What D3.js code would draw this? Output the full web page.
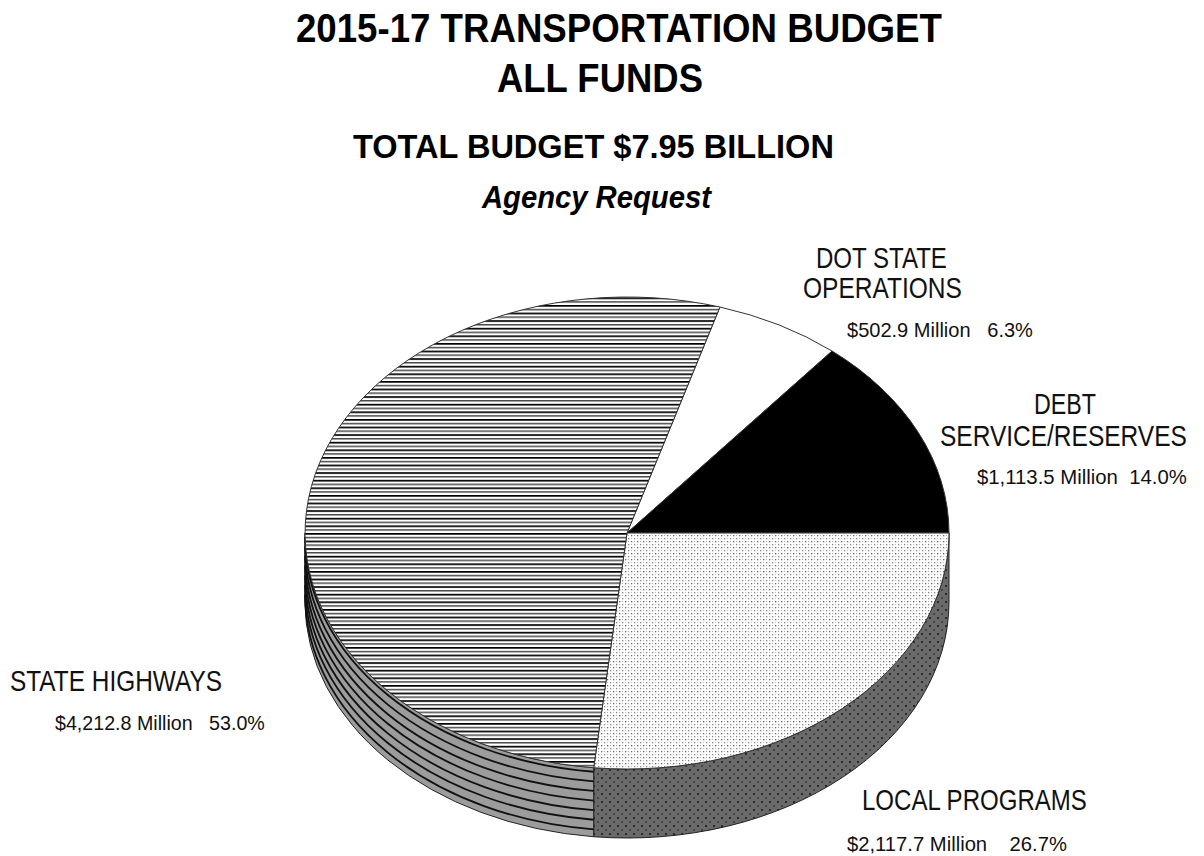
<!DOCTYPE html>
<html>
<head>
<meta charset="utf-8">
<script src="https://cdn.jsdelivr.net/npm/d3@7"></script>
<style>
  html, body { margin: 0; padding: 0; background: #fff; }
  svg { display: block; }
  text { white-space: pre; }
</style>
</head>
<body>
<svg id="chart" width="1204" height="856"></svg>
<script>
// ---- data ----
const categories = ["DOT STATE OPERATIONS", "DEBT SERVICE/RESERVES", "LOCAL PROGRAMS", "STATE HIGHWAYS"];
const amountsMillions = [502.9, 1113.5, 2117.7, 4212.8];
const percentLabels = ["6.3%", "14.0%", "26.7%", "53.0%"];
const labelLines = [["DOT STATE", "OPERATIONS"], ["DEBT", "SERVICE/RESERVES"], ["LOCAL PROGRAMS"], ["STATE HIGHWAYS"]];
const titleLines = ["2015-17 TRANSPORTATION BUDGET", "ALL FUNDS"];
const subtitle = "TOTAL BUDGET $7.95 BILLION";
const subtitle2 = "Agency Request";

// ---- layout ----
const svg = d3.select("#chart");
const cx = 627, cy = 533, rx = 322, ry = 236, depth = 69;
const narrow = "'Liberation Sans Narrow', 'Liberation Sans', Arial, sans-serif";

// ---- fill patterns ----
const defs = svg.append("defs");

// horizontal rules for the highways top face
const hLines = defs.append("pattern").attr("id", "hlines")
  .attr("patternUnits", "userSpaceOnUse").attr("width", 40).attr("height", 7.6)
  .attr("y", cy);
hLines.append("rect").attr("width", 40).attr("height", 7.6).attr("fill", "#fff");
hLines.append("rect").attr("y", 0).attr("width", 40).attr("height", 1.7).attr("fill", "#000");
hLines.append("rect").attr("y", 3.8).attr("width", 40).attr("height", 1.5).attr("fill", "#4a4a4a");

// light stipple for the local programs top face
const stipple = defs.append("pattern").attr("id", "stipple")
  .attr("patternUnits", "userSpaceOnUse").attr("width", 6).attr("height", 6);
stipple.append("rect").attr("width", 6).attr("height", 6).attr("fill", "#fff");
stipple.append("rect").attr("x", 1).attr("y", 1).attr("width", 1.3).attr("height", 1.3).attr("fill", "#666");
stipple.append("rect").attr("x", 4).attr("y", 4).attr("width", 1.3).attr("height", 1.3).attr("fill", "#888");
stipple.append("rect").attr("x", 4).attr("y", 1).attr("width", 1).attr("height", 1).attr("fill", "#aaa");
stipple.append("rect").attr("x", 1).attr("y", 4).attr("width", 1).attr("height", 1).attr("fill", "#bbb");

// dark dotted texture for the local programs side wall
const darkDots = defs.append("pattern").attr("id", "darkdots")
  .attr("patternUnits", "userSpaceOnUse").attr("width", 8).attr("height", 8);
darkDots.append("rect").attr("width", 8).attr("height", 8).attr("fill", "#6a6a6a");
darkDots.append("rect").attr("x", 1).attr("y", 1).attr("width", 2).attr("height", 2).attr("fill", "#2a2a2a");
darkDots.append("rect").attr("x", 5).attr("y", 5).attr("width", 2).attr("height", 2).attr("fill", "#444");

const topFill = ["#ffffff", "#000000", "url(#stipple)", "url(#hlines)"];
const sideFill = ["#ffffff", "#000000", "url(#darkdots)", "#9c9c9c"];

// ---- pie layout: Debt / Local boundary sits at 3 o'clock ----
const total = d3.sum(amountsMillions);
const startAngle = Math.PI / 2 - 2 * Math.PI * (amountsMillions[0] + amountsMillions[1]) / total;
const pie = d3.pie().sort(null).value(d => d)
  .startAngle(startAngle).endAngle(startAngle + 2 * Math.PI);
const arcs = pie(amountsMillions);

// point on the tilted rim (angle clockwise from 12 o'clock)
const pt = (a, dz = 0) => [cx + rx * Math.sin(a), cy - ry * Math.cos(a) + dz];
const fmt = p => p[0].toFixed(2) + "," + p[1].toFixed(2);

function topPath(a0, a1) {
  const large = (a1 - a0) > Math.PI ? 1 : 0;
  return `M${cx},${cy}L${fmt(pt(a0))}A${rx},${ry} 0 ${large} 1 ${fmt(pt(a1))}Z`;
}
function sidePath(s0, s1) {
  return `M${fmt(pt(s0))}A${rx},${ry} 0 0 1 ${fmt(pt(s1))}` +
         `L${fmt(pt(s1, depth))}A${rx},${ry} 0 0 0 ${fmt(pt(s0, depth))}Z`;
}
// visible part of the wall: front half, angles between 90° and 270°
function frontRange(a0, a1) {
  const s0 = Math.max(a0, Math.PI / 2), s1 = Math.min(a1, 3 * Math.PI / 2);
  return s1 > s0 ? [s0, s1] : null;
}

// ---- side walls ----
const sides = svg.append("g");
arcs.forEach((d, i) => {
  const r = frontRange(d.startAngle, d.endAngle);
  if (!r) return;
  sides.append("path").attr("d", sidePath(r[0], r[1]))
    .attr("fill", sideFill[i]).attr("stroke", "#222").attr("stroke-width", 1);
  if (i === 3) {
    // banded rings on the highways wall
    d3.range(4, depth, 9.6).forEach(dz => {
      sides.append("path")
        .attr("d", `M${fmt(pt(r[0], dz))}A${rx},${ry} 0 0 1 ${fmt(pt(r[1], dz))}`)
        .attr("fill", "none").attr("stroke", "#111").attr("stroke-width", 1.8);
    });
  }
});

// ---- top faces ----
const tops = svg.append("g");
arcs.forEach((d, i) => {
  tops.append("path").attr("d", topPath(d.startAngle, d.endAngle))
    .attr("fill", topFill[i]).attr("stroke", "#333").attr("stroke-width", 1);
});

// ---- text, squeezed horizontally to a given span ----
function fitText(str, x0, x1, baseline, size, weight, style, family) {
  const t = svg.append("text")
    .attr("x", 0).attr("y", 0)
    .attr("font-family", family).attr("font-size", size)
    .attr("font-weight", weight).attr("font-style", style || "normal")
    .attr("fill", "#000")
    .text(str);
  const natural = t.node().getComputedTextLength();
  const sx = natural > 0 ? (x1 - x0) / natural : 1;
  t.attr("transform", `translate(${x0},${baseline}) scale(${sx.toFixed(4)},1)`);
  return t;
}
fitText(titleLines[0], 296, 942, 42, 41, "bold", "normal", narrow);
fitText(titleLines[1], 497, 703, 92, 41, "bold", "normal", narrow);
fitText(subtitle, 353, 834, 158, 33, "bold", "normal", "'Liberation Sans', Arial, sans-serif");
fitText(subtitle2, 482, 711, 208, 32, "bold", "italic", "'Liberation Sans', Arial, sans-serif");

// ---- slice labels ----
const money = d3.format("$,.1f");
const labelBoxes = [
  { lines: [[816, 947, 268], [803, 962, 298]], value: [847, 1033, 337], gap: "   " },
  { lines: [[1034, 1096, 414], [940, 1187, 446]], value: [977, 1187, 484], gap: "  " },
  { lines: [[862, 1087, 810]], value: [847, 1067, 851], gap: "    " },
  { lines: [[10, 222, 691]], value: [55, 265, 730], gap: "   " }
];
labelBoxes.forEach((b, i) => {
  labelLines[i].forEach((ln, k) => {
    const [x0, x1, y] = b.lines[k];
    fitText(ln, x0, x1, y, 29, "normal", "normal", narrow).attr("fill", "#111");
  });
  const [vx0, vx1, vy] = b.value;
  fitText(`${money(amountsMillions[i])} Million${b.gap}${percentLabels[i]}`, vx0, vx1, vy, 21, "normal", "normal", narrow)
    .attr("fill", "#111");
});
</script>
</body>
</html>
